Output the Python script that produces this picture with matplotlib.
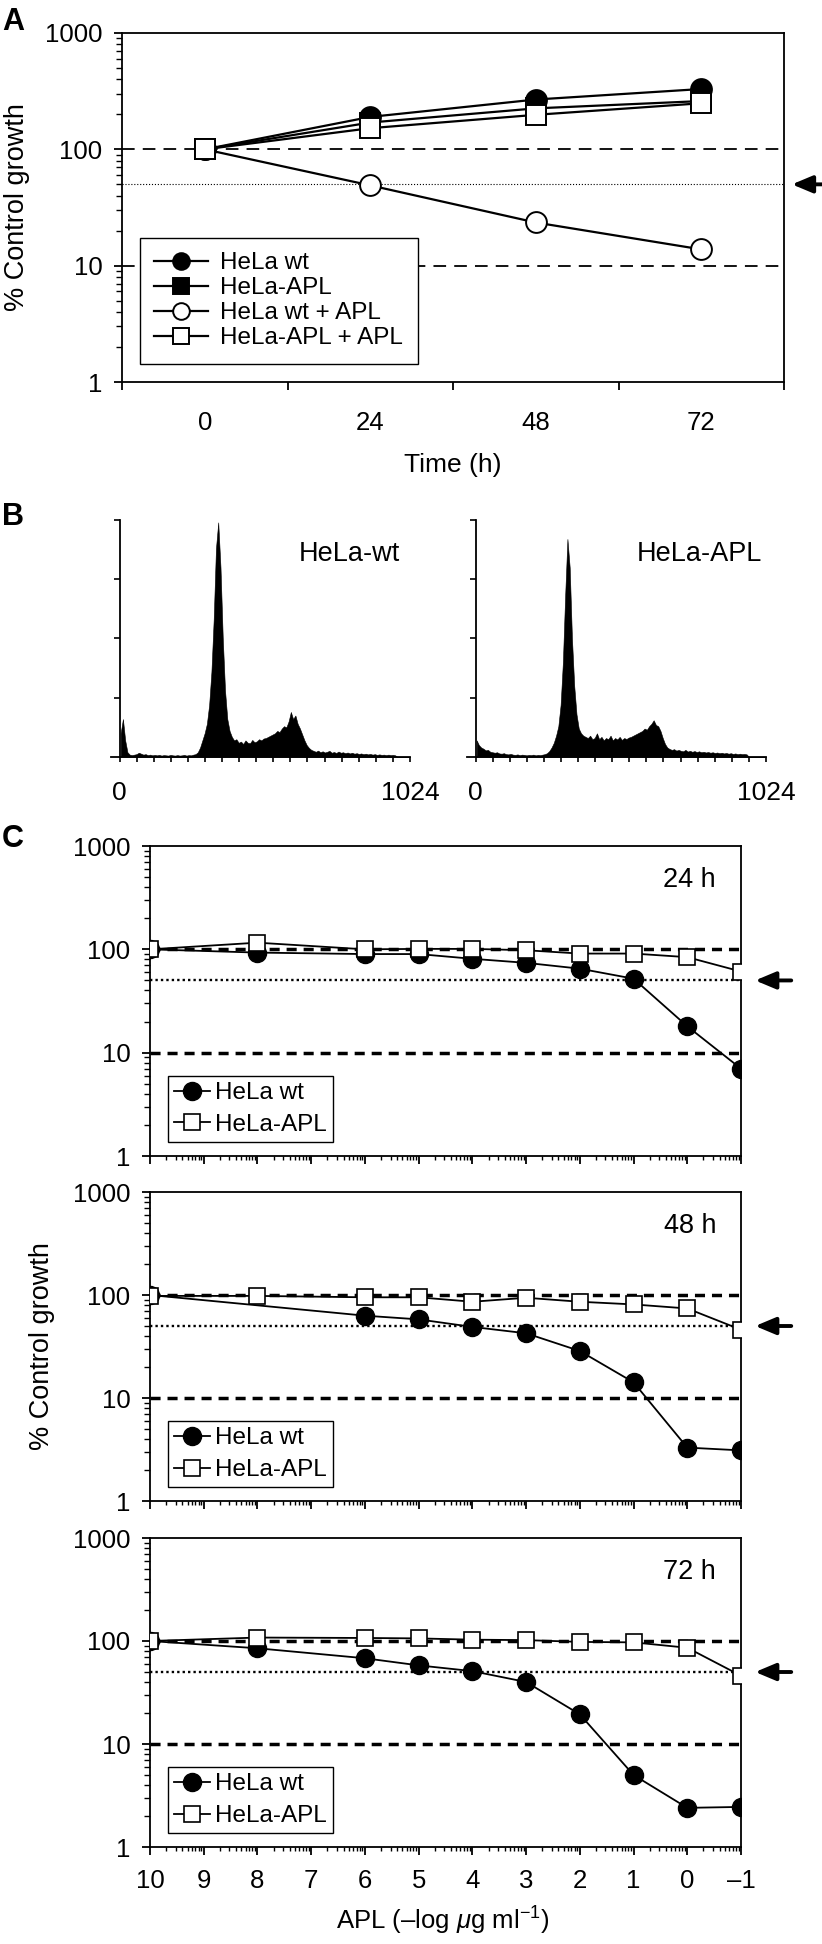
import numpy as np
import matplotlib
matplotlib.use("Agg")
import matplotlib.pyplot as plt
from matplotlib.ticker import LogLocator, NullFormatter

plt.rcParams['font.family'] = ['Liberation Sans', 'DejaVu Sans']
plt.rcParams['mathtext.fontset'] = 'custom'
plt.rcParams['mathtext.rm'] = 'Liberation Sans'
plt.rcParams['mathtext.it'] = 'Liberation Sans:italic'

# ---- panel A data: growth over time (% of control)
time_h = [0, 24, 48, 72]
a_hela_wt = [100, 190, 268, 330]
a_hela_apl = [100, 170, 225, 260]
a_hela_wt_apl = [100, 49, 23.5, 13.8]
a_hela_apl_apl = [100, 152, 198, 249]

# ---- panel B data: DNA content histograms, 8-channel bins (0..1024), peak = 1
hist_wt = [0.100, 0.160, 0.070, 0.020, 0.010, 0.008, 0.010, 0.012,
           0.018, 0.014, 0.010, 0.012, 0.008, 0.010, 0.007, 0.009,
           0.007, 0.009, 0.006, 0.008, 0.007, 0.006, 0.009, 0.007,
           0.006, 0.008, 0.006, 0.007, 0.009, 0.006, 0.008, 0.007,
           0.010, 0.012, 0.020, 0.040, 0.070, 0.100, 0.140, 0.220,
           0.360, 0.580, 0.880, 0.990, 0.800, 0.500, 0.280, 0.160,
           0.110, 0.085, 0.070, 0.075, 0.060, 0.065, 0.055, 0.070,
           0.060, 0.058, 0.072, 0.062, 0.066, 0.075, 0.070, 0.078,
           0.080, 0.085, 0.090, 0.095, 0.100, 0.110, 0.105, 0.120,
           0.130, 0.125, 0.150, 0.190, 0.160, 0.175, 0.140, 0.120,
           0.095, 0.070, 0.050, 0.038, 0.030, 0.026, 0.022, 0.027,
           0.020, 0.024, 0.019, 0.022, 0.026, 0.018, 0.021, 0.017,
           0.023, 0.018, 0.020, 0.016, 0.019, 0.015, 0.018, 0.014,
           0.016, 0.013, 0.015, 0.012, 0.014, 0.011, 0.013, 0.010,
           0.012, 0.009, 0.011, 0.009, 0.010, 0.008, 0.010, 0.008,
           0.009, 0.007, 0.0, 0.0, 0.0, 0.0, 0.0, 0.0]
hist_apl = [0.070, 0.050, 0.040, 0.035, 0.028, 0.030, 0.022, 0.020,
            0.018, 0.020, 0.015, 0.014, 0.016, 0.012, 0.011, 0.013,
            0.010, 0.009, 0.011, 0.008, 0.010, 0.009, 0.007, 0.009,
            0.008, 0.010, 0.007, 0.009, 0.008, 0.010, 0.012, 0.016,
            0.025, 0.040, 0.060, 0.090, 0.130, 0.220, 0.400, 0.680,
            0.920, 0.800, 0.500, 0.300, 0.180, 0.120, 0.100, 0.090,
            0.085, 0.080, 0.090, 0.075, 0.080, 0.100, 0.075, 0.085,
            0.070, 0.080, 0.075, 0.090, 0.070, 0.080, 0.074, 0.085,
            0.072, 0.080, 0.076, 0.082, 0.085, 0.090, 0.095, 0.100,
            0.105, 0.110, 0.120, 0.115, 0.130, 0.140, 0.155, 0.135,
            0.130, 0.110, 0.080, 0.055, 0.040, 0.034, 0.030, 0.033,
            0.027, 0.030, 0.026, 0.024, 0.030, 0.023, 0.026, 0.022,
            0.025, 0.021, 0.024, 0.020, 0.022, 0.019, 0.021, 0.018,
            0.020, 0.017, 0.019, 0.016, 0.018, 0.015, 0.017, 0.014,
            0.016, 0.013, 0.015, 0.012, 0.014, 0.012, 0.013, 0.011,
            0.0, 0.0, 0.0, 0.0, 0.0, 0.0, 0.0, 0.0]
hist_bin = 8

# ---- panel C data: dose response, APL as -log(ug/ml)
apl_log = [10, 8, 6, 5, 4, 3, 2, 1, 0, -1]
apl_ticks = [10, 9, 8, 7, 6, 5, 4, 3, 2, 1, 0, -1]
apl_tick_labels = ['10', '9', '8', '7', '6', '5', '4', '3', '2', '1', '0', '\u20131']
c24_wt = [100, 93, 90, 90, 81, 74, 65, 52, 18, 7.0]
c24_apl = [100, 116, 100, 101, 101, 98, 91, 91, 84, 61]
c48_wt_log = [10, 6, 5, 4, 3, 2, 1, 0, -1]
c48_wt = [100, 63, 58, 49, 42.5, 28.6, 14.2, 3.3, 3.1]
c48_apl = [98, 98, 95, 95, 86, 94, 86, 81, 74, 46]
c72_wt = [100, 85, 68, 58, 51, 40, 19.4, 5.0, 2.4, 2.45]
c72_apl = [100, 108, 107, 106, 103, 102, 98, 97, 86, 46]

W, H = 822, 1944
fig = plt.figure(figsize=(W / 100, H / 100), dpi=100)


def add_px_axes(left, top, right, bottom):
    return fig.add_axes([left / W, 1 - bottom / H, (right - left) / W, (bottom - top) / H])


def px_text(x, y, s, **kw):
    fig.text(x / W, 1 - y / H, s, **kw)


def add_arrow(ax, x0, x1):
    # the arrow that marks the 50 % level, outside the frame
    ax.annotate('', xy=(x0, 50), xycoords=('axes fraction', 'data'),
                xytext=(x1, 50), textcoords=('axes fraction', 'data'),
                arrowprops=dict(arrowstyle='-|>,head_length=0.62,head_width=0.26',
                                mutation_scale=20, lw=2.8, color='k',
                                shrinkA=0, shrinkB=0),
                annotation_clip=False)


def log_y(ax, size):
    ax.set_yscale('log')
    ax.set_ylim(1, 1000)
    ax.set_yticks([1, 10, 100, 1000], ['1', '10', '100', '1000'])
    ax.yaxis.set_minor_locator(LogLocator(base=10, subs=np.arange(2, 10)))
    ax.yaxis.set_minor_formatter(NullFormatter())
    ax.tick_params(axis='y', which='major', length=6, width=1.3, pad=8, labelsize=size)
    ax.tick_params(axis='y', which='minor', length=4, width=1)
    for sp in ax.spines.values():
        sp.set_linewidth(1.3)


# ================= A
ax = add_px_axes(122, 33, 784, 382)
log_y(ax, 18.5)
ax.set_xlim(-12, 84)
ax.axhline(100, color='k', lw=1.3, ls=(0, (7, 4.5)), zorder=1)
ax.axhline(10, color='k', lw=1.3, ls=(0, (7, 4.5)), zorder=1)
ax.axhline(50, color='k', lw=0.8, ls=':', zorder=1)
series_a = [(a_hela_wt, 'o', 'k', 'HeLa wt'),
            (a_hela_apl, 's', 'k', 'HeLa-APL'),
            (a_hela_wt_apl, 'o', 'white', 'HeLa wt + APL'),
            (a_hela_apl_apl, 's', 'white', 'HeLa-APL + APL')]
for vals, mk, fc, lab in series_a:
    ax.plot(time_h, vals, color='k', lw=1.6, marker=mk, ms=15, mfc=fc,
            mec='k', mew=1.4, label=lab, zorder=3)
ax.set_xticks([-12, 12, 36, 60, 84], [])
ax.set_xticks(time_h, [str(t) for t in time_h], minor=True)
ax.tick_params(axis='x', which='major', length=6, width=1.3)
ax.tick_params(axis='x', which='minor', length=0, pad=21, labelsize=18.5)
leg = ax.legend(loc='lower left', bbox_to_anchor=(0.027, 0.052), borderaxespad=0,
                fontsize=17.5, handlelength=2.2, handletextpad=0.5, labelspacing=0.12,
                borderpad=0.6, fancybox=False, edgecolor='k', framealpha=1,
                markerscale=0.8)
leg.get_frame().set_linewidth(1.0)
add_arrow(ax, 1.012, 1.07)
px_text(17, 207, '% Control growth', rotation=90, ha='center', va='center', fontsize=19.5)
px_text(453, 465, 'Time (h)', ha='center', va='center', fontsize=19)
px_text(13, 22, 'A', ha='center', va='center', fontsize=22, fontweight='bold')

# ================= B
px_text(13, 517, 'B', ha='center', va='center', fontsize=22, fontweight='bold')
for (left, right), counts, name, name_x in [((111, 410), hist_wt, 'HeLa-wt', 400),
                                            ((467, 766), hist_apl, 'HeLa-APL', 762)]:
    ax = add_px_axes(left, 520, right, 757)
    ch = np.arange(len(counts)) * hist_bin + hist_bin / 2
    ax.fill_between(ch, counts, color='k', lw=0.4, edgecolor='k')
    ax.set_xlim(-30, 1024)
    ax.set_ylim(0, 1)
    ax.spines['top'].set_visible(False)
    ax.spines['right'].set_visible(False)
    ax.spines['left'].set_position(('data', 0))
    ax.spines['left'].set_linewidth(1.3)
    ax.spines['bottom'].set_linewidth(1.3)
    ax.set_yticks([0.25, 0.5, 0.75, 1.0], [])
    xt = np.linspace(0, 1024, 18)
    ax.set_xticks(xt, ['0'] + [''] * 16 + ['1024'])
    ax.tick_params(axis='y', length=4.5, width=1.2)
    ax.tick_params(axis='x', length=3.5, width=1.2, pad=14, labelsize=19)
    px_text(name_x, 554, name, ha='right', va='center', fontsize=19.5)

# ================= C
px_text(13, 839, 'C', ha='center', va='center', fontsize=22, fontweight='bold')
panels_c = [(846, 1156, apl_log, c24_wt, c24_apl, '24 h'),
            (1192, 1501, c48_wt_log, c48_wt, c48_apl, '48 h'),
            (1538, 1847, apl_log, c72_wt, c72_apl, '72 h')]
for i, (top, bottom, wt_x, wt_v, apl_v, lab) in enumerate(panels_c):
    ax = add_px_axes(150, top, 741, bottom)
    log_y(ax, 18.5)
    ax.set_xscale('log')
    ax.set_xlim(1e-10, 1e1)
    ax.axhline(100, color='k', lw=2.5, ls=(0, (2.9, 2)), zorder=1)
    ax.axhline(10, color='k', lw=2.5, ls=(0, (2.9, 2)), zorder=1)
    ax.axhline(50, color='k', lw=1.7, ls=(0, (1, 1.3)), zorder=1)
    ax.plot(10.0 ** -np.array(wt_x, dtype=float), wt_v, color='k', lw=1.3,
            marker='o', ms=13, mfc='k', mec='k', label='HeLa wt', zorder=3)
    ax.plot(10.0 ** -np.array(apl_log, dtype=float), apl_v, color='k', lw=1.3,
            marker='s', ms=11.5, mfc='white', mec='k', mew=1.2, label='HeLa-APL', zorder=4)
    labels = apl_tick_labels if i == 2 else [''] * len(apl_ticks)
    ax.set_xticks(10.0 ** -np.array(apl_ticks, dtype=float), labels)
    ax.xaxis.set_minor_locator(LogLocator(base=10, subs=np.arange(2, 10), numticks=60))
    ax.xaxis.set_minor_formatter(NullFormatter())
    ax.tick_params(axis='x', which='major', length=6, width=1.3, pad=10, labelsize=18.5)
    ax.tick_params(axis='x', which='minor', length=3, width=1)
    leg = ax.legend(loc='lower left', bbox_to_anchor=(0.030, 0.045), borderaxespad=0,
                    fontsize=17.5, handlelength=1.5, handletextpad=0.2, labelspacing=0.4,
                    borderpad=0.25, fancybox=False, edgecolor='k', framealpha=1)
    leg.get_frame().set_linewidth(1.0)
    add_arrow(ax, 1.024, 1.085)
    px_text(716, top + 34, lab, ha='right', va='center', fontsize=19.5)

px_text(42, 1346, '% Control growth', rotation=90, ha='center', va='center', fontsize=19.5)
px_text(443, 1921, r'APL (–log $\mu$g ml$^{-1}$)', ha='center', va='center', fontsize=18.5)

fig.savefig('out.png', dpi=100)
